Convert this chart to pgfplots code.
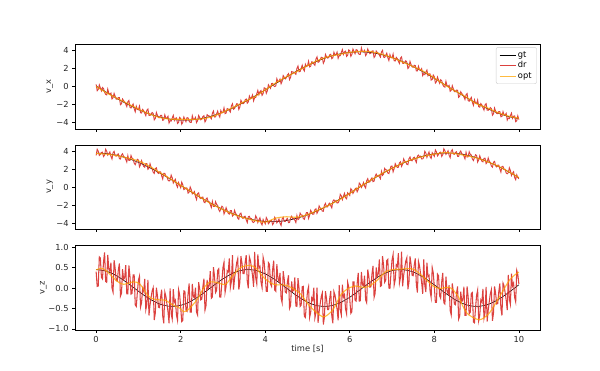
\documentclass[border=0pt]{standalone}
\usepackage{pgfplots}
\pgfplotsset{compat=1.18}
\usepackage{pgfplotstable}
\usepackage{fontspec}
\setmainfont{DejaVu Sans}
\definecolor{drred}{RGB}{216,45,42}
\definecolor{optor}{RGB}{255,165,0}

\pgfplotstableread{
t dx dy
0.000 0.23 3.58
0.025 -0.47 4.27
0.050 -0.33 4.05
0.075 0.18 3.58
0.100 -0.15 3.71
0.125 -0.49 3.91
0.150 -0.11 3.95
0.175 -0.22 3.45
0.200 -0.65 3.62
0.225 -0.88 4.27
0.250 -0.94 4.05
0.275 -0.29 3.61
0.300 -0.78 3.76
0.325 -0.85 3.97
0.350 -0.74 3.47
0.375 -1.39 3.18
0.400 -1.26 3.89
0.425 -0.77 4.04
0.450 -1.10 3.54
0.475 -1.42 3.50
0.500 -1.42 3.69
0.525 -1.24 3.75
0.550 -1.25 3.22
0.575 -2.03 3.18
0.600 -1.92 3.62
0.625 -1.40 3.77
0.650 -1.59 3.43
0.675 -1.73 3.40
0.700 -1.96 3.13
0.725 -2.24 2.84
0.750 -1.71 3.55
0.775 -1.56 3.01
0.800 -2.32 3.02
0.825 -2.40 3.57
0.850 -2.17 3.27
0.875 -1.96 3.18
0.900 -2.49 2.72
0.925 -2.83 2.54
0.950 -2.20 2.86
0.975 -2.56 3.15
1.000 -2.60 3.06
1.025 -2.19 2.30
1.050 -2.93 2.54
1.075 -2.96 2.99
1.100 -2.56 2.64
1.125 -2.71 2.35
1.150 -3.00 2.26
1.175 -3.26 2.65
1.200 -2.65 2.65
1.225 -2.52 2.03
1.250 -3.23 2.16
1.275 -3.24 2.64
1.300 -3.07 2.27
1.325 -2.91 2.09
1.350 -3.02 1.70
1.375 -3.73 1.56
1.400 -3.56 2.11
1.425 -2.90 2.19
1.450 -3.23 1.69
1.475 -3.47 1.56
1.500 -3.49 1.74
1.525 -3.23 1.73
1.550 -3.23 1.30
1.575 -3.78 0.94
1.600 -3.74 1.56
1.625 -3.18 1.56
1.650 -3.53 1.24
1.675 -3.53 1.22
1.700 -3.33 0.81
1.725 -4.08 0.71
1.750 -3.82 0.82
1.775 -3.86 1.37
1.800 -3.53 1.07
1.825 -3.23 0.49
1.850 -3.80 0.74
1.875 -3.56 0.91
1.900 -3.51 0.27
1.925 -4.13 0.01
1.950 -4.01 0.54
1.975 -3.45 0.24
2.000 -3.58 -0.05
2.025 -4.21 0.58
2.050 -4.00 0.28
2.075 -3.41 -0.25
2.100 -3.66 -0.18
2.125 -3.93 -0.05
2.150 -3.48 -0.08
2.175 -3.52 -0.64
2.200 -3.86 -0.53
2.225 -4.02 0.04
2.250 -4.01 -0.24
2.275 -3.27 -0.73
2.300 -3.68 -0.63
2.325 -3.66 -0.47
2.350 -3.46 -1.02
2.375 -4.03 -1.37
2.400 -3.82 -0.71
2.425 -3.24 -0.61
2.450 -3.48 -1.16
2.475 -3.72 -1.25
2.500 -3.63 -1.11
2.525 -3.36 -1.09
2.550 -3.27 -1.64
2.575 -3.96 -1.72
2.600 -3.75 -1.31
2.625 -3.15 -1.20
2.650 -3.25 -1.57
2.675 -3.29 -1.63
2.700 -3.43 -1.93
2.725 -3.61 -2.26
2.750 -2.99 -1.58
2.775 -2.74 -2.14
2.800 -3.41 -2.14
2.825 -3.39 -1.61
2.850 -3.06 -1.92
2.875 -2.75 -2.03
2.900 -3.18 -2.50
2.925 -3.42 -2.70
2.950 -2.69 -2.39
2.975 -2.96 -2.12
3.000 -2.90 -2.22
3.025 -2.39 -2.98
3.050 -3.03 -2.73
3.075 -2.97 -2.28
3.100 -2.47 -2.62
3.125 -2.52 -2.91
3.150 -2.70 -3.00
3.175 -2.86 -2.61
3.200 -2.16 -2.60
3.225 -1.93 -3.22
3.250 -2.54 -3.08
3.275 -2.45 -2.58
3.300 -2.19 -2.92
3.325 -1.93 -3.08
3.350 -1.95 -3.45
3.375 -2.56 -3.57
3.400 -2.29 -2.99
3.425 -1.54 -2.89
3.450 -1.77 -3.37
3.475 -1.92 -3.48
3.500 -1.84 -3.27
3.525 -1.49 -3.24
3.550 -1.40 -3.63
3.575 -1.86 -3.95
3.600 -1.72 -3.29
3.625 -1.07 -3.25
3.650 -1.34 -3.53
3.675 -1.24 -3.51
3.700 -0.95 -3.88
3.725 -1.61 -3.94
3.750 -1.26 -3.79
3.775 -1.22 -3.19
3.800 -0.81 -3.43
3.825 -0.43 -3.95
3.850 -0.92 -3.64
3.875 -0.58 -3.42
3.900 -0.45 -4.00
3.925 -0.99 -4.21
3.950 -0.79 -3.61
3.975 -0.15 -3.86
4.000 -0.20 -4.09
4.025 -0.76 -3.39
4.050 -0.48 -3.61
4.075 0.19 -4.08
4.100 0.00 -3.94
4.125 -0.20 -3.73
4.150 0.32 -3.69
4.175 0.35 -4.18
4.200 0.08 -4.01
4.225 -0.01 -3.36
4.250 0.07 -3.57
4.275 0.86 -3.98
4.300 0.51 -3.80
4.325 0.58 -3.55
4.350 0.83 -4.02
4.375 0.31 -4.28
4.400 0.59 -3.54
4.425 1.22 -3.36
4.450 1.03 -3.82
4.475 0.85 -3.83
4.500 0.99 -3.61
4.525 1.30 -3.49
4.550 1.43 -3.96
4.575 0.77 -3.94
4.600 1.02 -3.45
4.625 1.67 -3.24
4.650 1.61 -3.51
4.675 1.61 -3.49
4.700 1.50 -3.69
4.725 1.36 -3.94
4.750 2.02 -3.16
4.775 2.29 -3.62
4.800 1.64 -3.52
4.825 1.68 -2.89
4.850 2.03 -3.10
4.875 2.37 -3.12
4.900 1.95 -3.49
4.925 1.73 -3.59
4.950 2.48 -3.18
4.975 2.23 -2.82
5.000 2.31 -2.82
5.025 2.82 -3.48
5.050 2.19 -3.13
5.075 2.25 -2.58
5.100 2.76 -2.82
5.125 2.71 -3.02
5.150 2.52 -3.00
5.175 2.37 -2.51
5.200 3.07 -2.40
5.225 3.31 -2.92
5.250 2.70 -2.68
5.275 2.77 -2.08
5.300 3.02 -2.32
5.325 3.26 -2.39
5.350 3.22 -2.66
5.375 2.60 -2.68
5.400 2.85 -2.00
5.425 3.58 -1.80
5.450 3.33 -2.19
5.475 3.17 -2.20
5.500 3.23 -1.89
5.525 3.54 -1.77
5.550 3.60 -2.06
5.575 3.11 -2.30
5.600 3.21 -1.54
5.625 3.82 -1.41
5.650 3.52 -1.59
5.675 3.58 -1.48
5.700 3.84 -1.76
5.725 3.15 -1.73
5.750 3.46 -1.48
5.775 3.45 -0.79
5.800 3.81 -0.95
5.825 4.13 -1.38
5.850 3.59 -0.99
5.875 3.87 -0.67
5.900 3.95 -1.17
5.925 3.36 -1.29
5.950 3.50 -0.61
5.975 4.09 -0.77
6.000 3.99 -0.92
6.025 3.37 -0.15
6.050 3.58 -0.30
6.075 4.18 -0.68
6.100 3.92 -0.47
6.125 3.66 -0.19
6.150 4.12 -0.08
6.175 4.08 -0.50
6.200 3.74 -0.24
6.225 3.58 0.48
6.250 3.60 0.34
6.275 4.31 -0.01
6.300 3.88 0.23
6.325 3.88 0.54
6.350 4.05 0.13
6.375 3.45 -0.07
6.400 3.64 0.73
6.425 4.19 0.97
6.450 3.93 0.57
6.475 3.67 0.62
6.500 3.73 0.90
6.525 3.95 1.06
6.550 3.99 0.64
6.575 3.24 0.70
6.600 3.40 1.24
6.625 3.96 1.49
6.650 3.81 1.26
6.675 3.72 1.33
6.700 3.52 1.17
6.725 3.29 0.97
6.750 3.86 1.79
6.775 4.04 1.35
6.800 3.29 1.48
6.825 3.24 2.13
6.850 3.49 1.95
6.875 3.73 1.96
6.900 3.22 1.61
6.925 2.90 1.54
6.950 3.56 1.97
6.975 3.22 2.37
7.000 3.20 2.39
7.025 3.62 1.74
7.050 2.88 2.09
7.075 2.85 2.65
7.100 3.25 2.41
7.125 3.11 2.23
7.150 2.82 2.26
7.175 2.57 2.75
7.200 3.17 2.87
7.225 3.31 2.35
7.250 2.60 2.60
7.275 2.58 3.19
7.300 2.72 2.93
7.325 2.87 2.86
7.350 2.73 2.58
7.375 2.01 2.54
7.400 2.16 3.21
7.425 2.80 3.40
7.450 2.45 3.01
7.475 2.19 2.98
7.500 2.15 3.28
7.525 2.37 3.38
7.550 2.33 3.05
7.575 1.74 2.79
7.600 1.75 3.51
7.625 2.26 3.62
7.650 1.87 3.41
7.675 1.84 3.49
7.700 2.00 3.18
7.725 1.21 3.18
7.750 1.43 3.40
7.775 1.33 4.04
7.800 1.60 3.84
7.825 1.84 3.36
7.850 1.21 3.70
7.875 1.41 3.97
7.900 1.40 3.42
7.925 0.72 3.25
7.950 0.78 3.88
7.975 1.28 3.68
8.000 1.09 3.48
8.025 0.39 4.19
8.050 0.53 3.98
8.075 1.05 3.53
8.100 0.72 3.68
8.125 0.37 3.90
8.150 0.75 3.95
8.175 0.64 3.47
8.200 0.22 3.66
8.225 -0.01 4.32
8.250 -0.07 4.12
8.275 0.58 3.70
8.300 0.09 3.86
8.325 0.01 4.09
8.350 0.12 3.60
8.375 -0.54 3.33
8.400 -0.41 4.06
8.425 0.08 4.22
8.450 -0.26 3.74
8.475 -0.58 3.71
8.500 -0.58 3.92
8.525 -0.41 3.99
8.550 -0.42 3.48
8.575 -1.21 3.46
8.600 -1.10 3.91
8.625 -0.59 4.07
8.650 -0.79 3.75
8.675 -0.93 3.73
8.700 -1.17 3.49
8.725 -1.45 3.20
8.750 -0.93 3.93
8.775 -0.79 3.40
8.800 -1.56 3.43
8.825 -1.65 3.99
8.850 -1.42 3.71
8.875 -1.22 3.63
8.900 -1.77 3.18
8.925 -2.11 3.01
8.950 -1.49 3.35
8.975 -1.86 3.65
9.000 -1.91 3.58
9.025 -1.51 2.83
9.050 -2.26 3.09
9.075 -2.31 3.54
9.100 -1.91 3.21
9.125 -2.07 2.93
9.150 -2.37 2.86
9.175 -2.64 3.26
9.200 -2.04 3.27
9.225 -1.92 2.66
9.250 -2.64 2.81
9.275 -2.66 3.30
9.300 -2.51 2.94
9.325 -2.36 2.77
9.350 -2.49 2.39
9.375 -3.21 2.26
9.400 -3.05 2.82
9.425 -2.41 2.91
9.450 -2.75 2.42
9.475 -3.01 2.29
9.500 -3.04 2.49
9.525 -2.80 2.49
9.550 -2.81 2.07
9.575 -3.38 1.71
9.600 -3.35 2.34
9.625 -2.81 2.35
9.650 -3.17 2.03
9.675 -3.18 2.02
9.700 -3.00 1.61
9.725 -3.76 1.52
9.750 -3.52 1.64
9.775 -3.58 2.19
9.800 -3.26 1.89
9.825 -2.98 1.33
9.850 -3.56 1.58
9.875 -3.33 1.75
9.900 -3.29 1.11
9.925 -3.93 0.86
9.950 -3.82 1.40
9.975 -3.28 1.10
10.000 -3.70 0.95
}\drtab

\pgfplotstableread{
t dz
0.000 0.40
0.025 0.04
0.050 0.05
0.075 0.76
0.100 0.73
0.125 0.26
0.150 0.22
0.175 0.64
0.200 0.87
0.225 0.16
0.250 0.14
0.275 0.81
0.300 0.46
0.325 0.40
0.350 0.62
0.375 0.00
0.400 -0.10
0.425 0.68
0.450 0.48
0.475 0.18
0.500 0.17
0.525 0.44
0.550 0.60
0.575 -0.20
0.600 -0.13
0.625 0.46
0.650 0.21
0.675 0.25
0.700 0.56
0.725 -0.14
0.750 -0.14
0.775 0.55
0.800 0.29
0.825 -0.15
0.850 -0.13
0.875 0.32
0.900 0.32
0.925 -0.41
0.950 -0.45
0.975 -0.11
1.000 0.19
1.025 0.29
1.050 -0.47
1.075 -0.36
1.100 -0.01
1.125 -0.08
1.150 0.22
1.175 -0.53
1.200 -0.40
1.225 0.20
1.250 -0.67
1.275 -0.41
1.300 -0.23
1.325 -0.07
1.350 0.01
1.375 -0.78
1.400 -0.61
1.425 0.01
1.450 -0.18
1.475 -0.47
1.500 -0.48
1.525 -0.22
1.550 -0.04
1.575 -0.68
1.600 -0.86
1.625 -0.10
1.650 -0.20
1.675 -0.39
1.700 -0.58
1.725 -0.86
1.750 -0.01
1.775 -0.63
1.800 -0.76
1.825 -0.03
1.850 -0.35
1.875 -0.30
1.900 -0.66
1.925 -0.79
1.950 -0.04
1.975 -0.16
2.000 -0.47
2.025 -0.82
2.050 -0.79
2.075 -0.07
2.100 -0.08
2.125 -0.54
2.150 -0.57
2.175 -0.14
2.200 0.11
2.225 -0.59
2.250 -0.59
2.275 0.10
2.300 -0.21
2.325 -0.24
2.350 0.01
2.375 -0.59
2.400 -0.66
2.425 0.14
2.450 -0.02
2.475 -0.29
2.500 -0.27
2.525 0.03
2.550 0.23
2.575 -0.54
2.600 -0.43
2.625 0.20
2.650 -0.01
2.675 0.06
2.700 0.41
2.725 -0.25
2.750 -0.22
2.775 0.51
2.800 0.29
2.825 -0.11
2.850 -0.06
2.875 0.43
2.900 0.47
2.925 -0.22
2.950 -0.22
2.975 0.16
3.000 0.50
3.025 0.63
3.050 -0.11
3.075 0.04
3.100 0.42
3.125 0.39
3.150 0.72
3.175 0.01
3.200 0.16
3.225 0.80
3.250 -0.04
3.275 0.24
3.300 0.43
3.325 0.62
3.350 0.72
3.375 -0.04
3.400 0.14
3.425 0.78
3.450 0.61
3.475 0.35
3.500 0.35
3.525 0.62
3.550 0.80
3.575 0.17
3.600 -0.01
3.625 0.76
3.650 0.67
3.675 0.49
3.700 0.30
3.725 0.03
3.750 0.88
3.775 0.25
3.800 0.10
3.825 0.82
3.850 0.49
3.875 0.53
3.900 0.15
3.925 0.01
3.950 0.75
3.975 0.63
4.000 0.30
4.025 -0.08
4.050 -0.08
4.075 0.62
4.100 0.58
4.125 0.10
4.150 0.04
4.175 0.45
4.200 0.67
4.225 -0.05
4.250 -0.08
4.275 0.58
4.300 0.23
4.325 0.16
4.350 0.37
4.375 -0.25
4.400 -0.36
4.425 0.41
4.450 0.21
4.475 -0.10
4.500 -0.12
4.525 0.15
4.550 0.31
4.575 -0.50
4.600 -0.43
4.625 0.16
4.650 -0.08
4.675 -0.05
4.700 0.26
4.725 -0.44
4.750 -0.45
4.775 0.24
4.800 -0.01
4.825 -0.45
4.850 -0.42
4.875 0.03
4.900 0.04
4.925 -0.69
4.950 -0.72
4.975 -0.38
5.000 -0.08
5.025 0.03
5.050 -0.72
5.075 -0.60
5.100 -0.24
5.125 -0.30
5.150 0.01
5.175 -0.73
5.200 -0.60
5.225 0.01
5.250 -0.85
5.275 -0.58
5.300 -0.39
5.325 -0.21
5.350 -0.12
5.375 -0.89
5.400 -0.71
5.425 -0.08
5.450 -0.26
5.475 -0.53
5.500 -0.53
5.525 -0.26
5.550 -0.07
5.575 -0.69
5.600 -0.86
5.625 -0.09
5.650 -0.17
5.675 -0.34
5.700 -0.52
5.725 -0.79
5.750 0.07
5.775 -0.54
5.800 -0.66
5.825 0.08
5.850 -0.22
5.875 -0.16
5.900 -0.51
5.925 -0.63
5.950 0.14
5.975 0.03
6.000 -0.28
6.025 -0.62
6.050 -0.58
6.075 0.15
6.100 0.15
6.125 -0.30
6.150 -0.32
6.175 0.11
6.200 0.37
6.225 -0.32
6.250 -0.31
6.275 0.39
6.300 0.08
6.325 0.05
6.350 0.30
6.375 -0.29
6.400 -0.36
6.425 0.45
6.450 0.29
6.475 0.02
6.500 0.03
6.525 0.34
6.550 0.54
6.575 -0.23
6.600 -0.13
6.625 0.50
6.650 0.28
6.675 0.35
6.700 0.70
6.725 0.04
6.750 0.06
6.775 0.78
6.800 0.55
6.825 0.14
6.850 0.19
6.875 0.67
6.900 0.70
6.925 0.00
6.950 -0.01
6.975 0.36
7.000 0.69
7.025 0.82
7.050 0.07
7.075 0.20
7.100 0.57
7.125 0.53
7.150 0.85
7.175 0.12
7.200 0.26
7.225 0.89
7.250 0.04
7.275 0.31
7.300 0.49
7.325 0.66
7.350 0.74
7.375 -0.03
7.400 0.14
7.425 0.77
7.450 0.58
7.475 0.31
7.500 0.30
7.525 0.56
7.550 0.72
7.575 0.08
7.600 -0.11
7.625 0.65
7.650 0.54
7.675 0.35
7.700 0.14
7.725 -0.14
7.750 0.70
7.775 0.06
7.800 -0.10
7.825 0.62
7.850 0.28
7.875 0.31
7.900 -0.08
7.925 -0.23
7.950 0.50
7.975 0.37
8.000 0.03
8.025 -0.35
8.050 -0.35
8.075 0.34
8.100 0.30
8.125 -0.19
8.150 -0.25
8.175 0.15
8.200 0.37
8.225 -0.36
8.250 -0.39
8.275 0.28
8.300 -0.07
8.325 -0.14
8.350 0.07
8.375 -0.55
8.400 -0.66
8.425 0.11
8.450 -0.09
8.475 -0.39
8.500 -0.41
8.525 -0.13
8.550 0.04
8.575 -0.76
8.600 -0.69
8.625 -0.09
8.650 -0.33
8.675 -0.29
8.700 0.03
8.725 -0.67
8.750 -0.67
8.775 0.04
8.800 -0.21
8.825 -0.63
8.850 -0.59
8.875 -0.13
8.900 -0.11
8.925 -0.83
8.950 -0.85
8.975 -0.49
9.000 -0.18
9.025 -0.05
9.050 -0.80
9.075 -0.66
9.100 -0.29
9.125 -0.34
9.150 -0.02
9.175 -0.74
9.200 -0.60
9.225 0.03
9.250 -0.82
9.275 -0.54
9.300 -0.33
9.325 -0.14
9.350 -0.04
9.375 -0.80
9.400 -0.61
9.425 0.04
9.450 -0.13
9.475 -0.39
9.500 -0.38
9.525 -0.09
9.550 0.11
9.575 -0.50
9.600 -0.67
9.625 0.12
9.650 0.05
9.675 -0.11
9.700 -0.29
9.725 -0.54
9.750 0.32
9.775 -0.28
9.800 -0.40
9.825 0.35
9.850 0.05
9.875 0.12
9.900 -0.23
9.925 -0.34
9.950 0.43
9.975 0.33
10.000 0.10
}\drz

\pgfplotstableread{
t gx gy gz ox oy
0.00 0.05 3.85 0.450 0.00 3.80
0.25 -0.67 3.78 0.408 -0.72 3.72
0.50 -1.36 3.58 0.289 -1.33 3.55
0.75 -2.00 3.25 0.116 -1.92 3.28
1.00 -2.57 2.80 -0.078 -2.52 2.97
1.25 -3.05 2.25 -0.258 -3.05 2.40
1.50 -3.41 1.62 -0.390 -3.46 1.68
1.75 -3.65 0.94 -0.448 -3.65 0.98
2.00 -3.76 0.22 -0.423 -3.66 0.22
2.25 -3.74 -0.51 -0.318 -3.69 -0.48
2.50 -3.57 -1.22 -0.154 -3.62 -1.22
2.75 -3.28 -1.88 0.039 -3.36 -1.92
3.00 -2.87 -2.48 0.225 -2.87 -2.50
3.25 -2.36 -2.99 0.369 -2.31 -3.02
3.50 -1.76 -3.39 0.443 -1.71 -3.42
3.75 -1.09 -3.67 0.435 -1.14 -3.72
4.00 -0.38 -3.82 0.345 -0.38 -3.90
4.25 0.34 -3.84 0.190 0.42 -3.45
4.50 1.05 -3.72 0.000 1.08 -3.30
4.75 1.73 -3.46 -0.190 1.68 -3.35
5.00 2.34 -3.08 -0.345 2.34 -3.05
5.25 2.88 -2.59 -0.435 2.93 -2.55
5.50 3.31 -2.01 -0.443 3.34 -2.01
5.75 3.63 -1.36 -0.369 3.58 -1.40
6.00 3.81 -0.65 -0.225 3.81 -0.68
6.25 3.87 0.07 -0.039 3.92 0.10
6.50 3.79 0.79 0.154 3.89 0.82
6.75 3.57 1.49 0.318 3.62 1.52
7.00 3.23 2.13 0.423 3.23 2.13
7.25 2.78 2.69 0.448 2.73 2.72
7.50 2.23 3.16 0.390 2.23 3.16
7.75 1.60 3.52 0.258 1.68 3.48
8.00 0.91 3.75 0.078 0.96 3.72
8.25 0.20 3.85 -0.116 0.17 3.90
8.50 -0.52 3.81 -0.289 -0.52 3.78
8.75 -1.22 3.63 -0.408 -1.17 3.55
9.00 -1.88 3.32 -0.450 -1.93 3.30
9.25 -2.46 2.90 -0.408 -2.38 2.88
9.50 -2.96 2.37 -0.289 -2.91 2.40
9.75 -3.35 1.76 -0.116 -3.30 1.78
10.00 -3.60 1.08 0.078 -3.55 1.10
}\gttab

\pgfplotstableread{
t oz
0.00 0.44
0.13 0.48
0.25 0.41
0.49 0.17
0.65 0.09
0.89 0.15
1.04 0.09
1.24 -0.20
1.40 -0.28
1.64 -0.30
1.79 -0.40
1.99 -0.50
2.07 -0.58
2.19 -0.52
2.39 -0.28
2.55 0.01
2.70 0.15
2.86 0.13
3.06 0.09
3.22 0.29
3.42 0.50
3.61 0.55
3.77 0.50
3.97 0.25
4.20 0.09
4.48 0.07
4.68 -0.03
4.84 -0.15
5.05 -0.44
5.29 -0.66
5.41 -0.70
5.61 -0.52
5.80 -0.15
6.00 0.01
6.12 0.05
6.39 0.02
6.63 0.17
6.87 0.41
7.18 0.46
7.50 0.46
7.74 0.27
7.97 0.05
8.13 -0.01
8.37 0.01
8.56 -0.20
8.76 -0.60
9.00 -0.76
9.12 -0.76
9.31 -0.60
9.55 -0.20
9.79 0.21
10.00 0.39
}\optz

\pgfplotsset{
  panel/.style={
    scale only axis, width=465pt, anchor=south west,
    xmin=-0.5, xmax=10.5,
    axis line style={line width=0.6pt, black},
    tick align=outside, xtick pos=left, ytick pos=left,
    major tick length=2.9pt,
    every tick/.style={black, line width=0.6pt},
    xtick={0,2,4,6,8,10},
    tick label style={font=\fontsize{8.3}{10}\selectfont, text=black!85},
    label style={font=\fontsize{8.3}{10}\selectfont, text=black!85},
    ylabel style={at={(axis description cs:-0.054,0.5)}, anchor=center},
  },
  gtl/.style={black, line width=0.6pt, smooth, no markers},
  drl/.style={drred, opacity=0.9, line width=0.95pt, no markers},
  drlz/.style={drred, opacity=0.9, line width=1.05pt, no markers},
  optl/.style={optor, opacity=0.75, line width=1.1pt, smooth, no markers},
}

\begin{document}
\begin{tikzpicture}
\path[use as bounding box] (0pt,0pt) rectangle (600pt,371pt);

\begin{axis}[panel, at={(75pt,242pt)}, height=85pt,
  ymin=-4.75, ymax=4.75, ytick={-4,-2,0,2,4}, yticklabels={−4,−2,0,2,4},
  xticklabels={}, ylabel={v\_x},
  legend style={at={(0.993,0.963)}, anchor=north east, draw=black!20, fill=white,
    rounded corners=2pt, font=\fontsize{8.3}{10}\selectfont, inner xsep=3pt, inner ysep=2pt,
    row sep=-1pt},
  legend cell align=left,
  legend image code/.code={\draw[#1, line width=0.8pt] (0pt,0pt) -- (16pt,0pt);}]
\addplot[gtl] table[x=t, y=gx] {\gttab};
\addlegendentry{gt}
\addplot[drl] table[x=t, y=dx] {\drtab};
\addlegendentry{dr}
\addplot[optl] table[x=t, y=ox] {\gttab};
\addlegendentry{opt}
\end{axis}

\begin{axis}[panel, at={(75pt,142pt)}, height=84pt,
  ymin=-4.67, ymax=4.75, ytick={-4,-2,0,2,4}, yticklabels={−4,−2,0,2,4},
  xticklabels={}, ylabel={v\_y}]
\addplot[gtl] table[x=t, y=gy] {\gttab};
\addplot[drl] table[x=t, y=dy] {\drtab};
\addplot[optl] table[x=t, y=oy] {\gttab};
\end{axis}

\begin{axis}[panel, at={(75pt,41pt)}, height=85pt,
  ymin=-1.025, ymax=1.05, ytick={-1,-0.5,0,0.5,1}, yticklabels={−1.0,−0.5,0.0,0.5,1.0},
  xticklabels={0,2,4,6,8,10}, ylabel={v\_z},
  ylabel style={at={(axis description cs:-0.068,0.5)}, anchor=center},
  xlabel={time [s]},
  xlabel style={at={(axis description cs:0.5,-0.225)}, anchor=center}]
\addplot[gtl] table[x=t, y=gz] {\gttab};
\addplot[drlz] table[x=t, y=dz] {\drz};
\addplot[optl] table[x=t, y=oz] {\optz};
\end{axis}
\end{tikzpicture}
\end{document}
